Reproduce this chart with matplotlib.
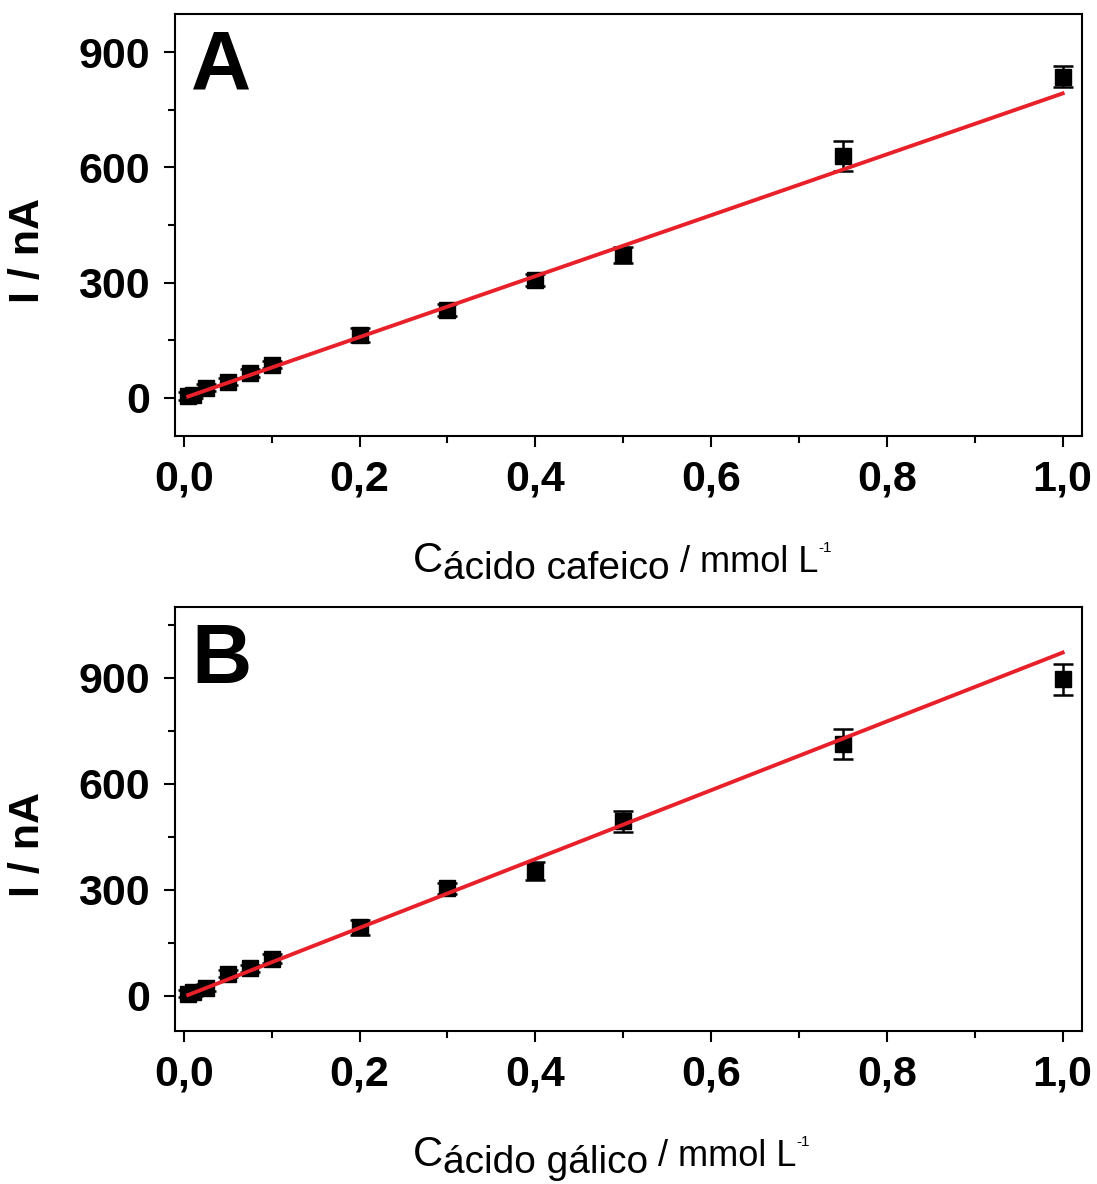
import matplotlib
matplotlib.use('Agg')
import matplotlib.pyplot as plt
from matplotlib.ticker import MultipleLocator, FuncFormatter

plt.rcParams['font.family'] = ['Liberation Sans', 'DejaVu Sans']

# Concentrações (mmol/L)
conc = [0.005, 0.01, 0.025, 0.05, 0.075, 0.1, 0.2, 0.3, 0.4, 0.5, 0.75, 1.0]

# A - ácido cafeico
i_caf = [4, 8, 26, 42, 65, 86, 164, 229, 307, 372, 629, 837]
err_caf = [10, 10, 10, 10, 10, 10, 18, 15, 15, 20, 39, 27]
fit_x = [0.005, 1.0]
fit_caf = [3, 793]

# B - ácido gálico
i_gal = [5, 10, 23, 62, 77, 105, 193, 304, 352, 494, 713, 895]
err_gal = [10, 10, 10, 10, 10, 12, 20, 15, 25, 30, 43, 45]
fit_gal = [2, 971]

W, H = 1097, 1184
fig = plt.figure(figsize=(W / 100, H / 100), dpi=100)

ax_a = fig.add_axes([175 / W, 1 - 436 / H, 907 / W, 422 / H])
ax_b = fig.add_axes([175 / W, 1 - 1031 / H, 907 / W, 424 / H])

virg = FuncFormatter(lambda v, p: ('%.1f' % v).replace('.', ','))


def painel(ax, y, e, fit, ymax, letra):
    ax.errorbar(conc, y, yerr=e, fmt='s', color='black', ms=11,
                elinewidth=1.8, capsize=7, capthick=1.8, zorder=2)
    ax.plot(fit_x, fit, color='#e8202a', lw=2.8, zorder=3)
    ax.set_xlim(-0.01, 1.022)
    ax.set_ylim(-100, ymax)
    ax.xaxis.set_major_locator(MultipleLocator(0.2))
    ax.xaxis.set_minor_locator(MultipleLocator(0.1))
    ax.yaxis.set_major_locator(MultipleLocator(300))
    ax.yaxis.set_minor_locator(MultipleLocator(150))
    ax.xaxis.set_major_formatter(virg)
    ax.tick_params(which='major', direction='out', length=8, width=1.5,
                   labelsize=31, pad=9)
    ax.tick_params(which='minor', direction='out', length=5, width=1.5)
    ax.tick_params(axis='y', pad=10)
    for lab in ax.get_xticklabels() + ax.get_yticklabels():
        lab.set_fontweight('bold')
    for s in ax.spines.values():
        s.set_linewidth(1.5)
    ax.set_ylabel('I / nA', fontsize=31, fontweight='bold')
    ax.yaxis.set_label_coords(-0.14, 0.44)
    ax.text(0.018, 0.965, letra, transform=ax.transAxes, fontsize=60,
            fontweight='bold', va='top', ha='left')


painel(ax_a, i_caf, err_caf, fit_caf, 1000, 'A')
painel(ax_b, i_gal, err_gal, fit_gal, 1100, 'B')

# rótulo do eixo x montado em pedaços
r = fig.canvas.get_renderer()


def rotulo_x(y_px, nome):
    y0 = 1 - y_px / H
    t = fig.text(413 / W, y0, 'C', fontsize=30, va='baseline')
    x = t.get_window_extent(r).x1 / W
    t = fig.text(x, y0 - 7 / H, nome, fontsize=28, va='baseline')
    x = t.get_window_extent(r).x1 / W + 10 / W
    t = fig.text(x, y0, '/ mmol L', fontsize=26, va='baseline')
    x = t.get_window_extent(r).x1 / W
    fig.text(x, y0 + 20 / H, '-1', fontsize=11, va='baseline')


rotulo_x(572, 'ácido cafeico')
rotulo_x(1166, 'ácido gálico')

fig.savefig('out.png', dpi=100)
